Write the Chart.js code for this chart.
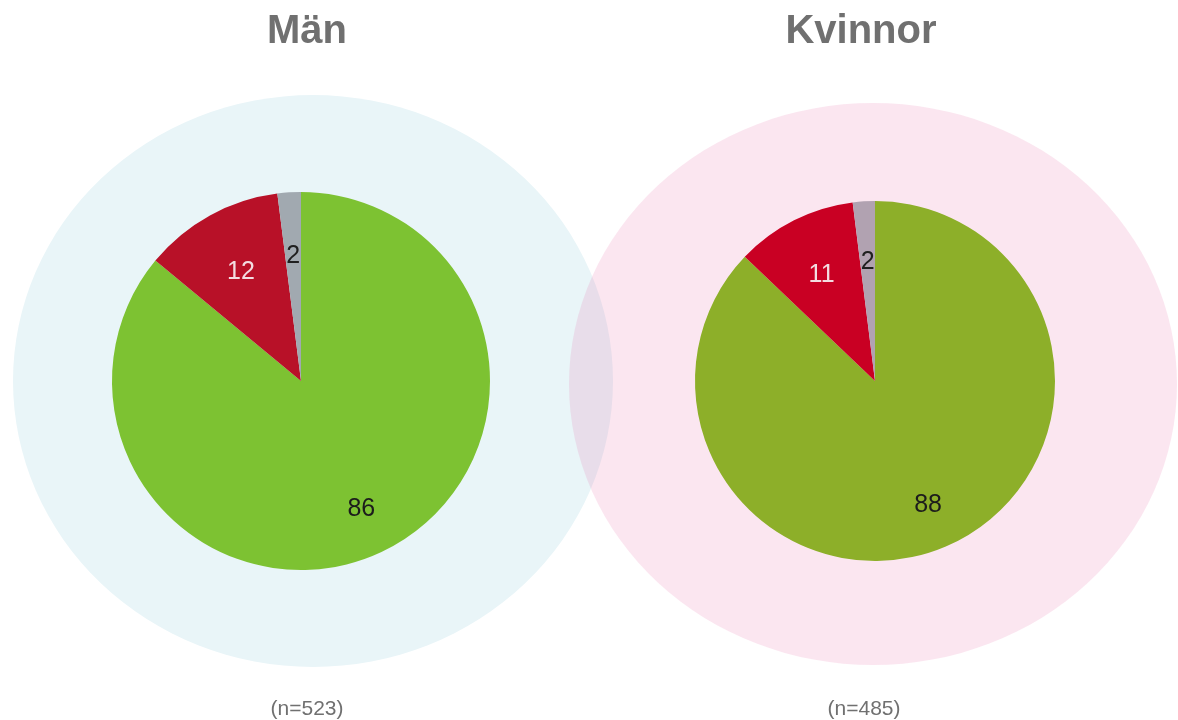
<!DOCTYPE html>
<html>
<head>
<meta charset="utf-8">
<script src="https://cdn.jsdelivr.net/npm/chart.js@4.4.1/dist/chart.umd.min.js"></script>
<style>
  body { margin:0; background:#fff; font-family:"Liberation Sans", Arial, sans-serif; }
  #wrap { position:relative; width:1178px; height:720px; overflow:hidden; }
  canvas { position:absolute; left:0; top:0; }
  .title { position:absolute; top:7px; width:300px; text-align:center; font-weight:bold;
           font-size:40px; line-height:44px; color:#707070; }
  .nlab { position:absolute; top:696px; width:200px; text-align:center; font-size:21px;
          line-height:24px; color:#707070; }
</style>
</head>
<body>
<div id="wrap">
  <canvas id="chartMen" width="1178" height="720"></canvas>
  <canvas id="chartWomen" width="1178" height="720"></canvas>
  <div class="title" style="left:157px">Män</div>
  <div class="title" style="left:711px">Kvinnor</div>
  <div class="nlab" style="left:207px">(n=523)</div>
  <div class="nlab" style="left:764px">(n=485)</div>
</div>
<script>
// data
var categories = ['Ja', 'Nej', 'Vet ej'];
var menValues = [86, 12, 2];
var womenValues = [88, 11, 2];

var menColors = ['#7dc232', '#b81128', '#a1a9b0'];
var womenColors = ['#8daf29', '#c90023', '#b1a2b1'];
var labelColors = ['#1c1c1c', '#f3dde1', '#202020'];

// background ellipse behind each pie
var ellipsePlugin = {
  id: 'bgEllipse',
  beforeDraw: function(chart, args, opts) {
    var ctx = chart.ctx;
    ctx.save();
    ctx.fillStyle = opts.color;
    ctx.beginPath();
    ctx.ellipse(opts.cx, opts.cy, opts.rx, opts.ry, 0, 0, Math.PI * 2);
    ctx.fill();
    ctx.restore();
  }
};

// value labels inside slices
var sliceLabels = {
  id: 'sliceLabels',
  afterDatasetsDraw: function(chart) {
    var ctx = chart.ctx;
    var ds = chart.data.datasets[0];
    var meta = chart.getDatasetMeta(0);
    var total = ds.data.reduce(function(a, b) { return a + b; }, 0);
    ctx.save();
    ctx.font = '25px "Liberation Sans", Arial, sans-serif';
    ctx.textAlign = 'center';
    ctx.textBaseline = 'middle';
    meta.data.forEach(function(arc, i) {
      var p = arc.getProps(['x', 'y', 'startAngle', 'endAngle', 'outerRadius'], true);
      var mid = (p.startAngle + p.endAngle) / 2;
      var f = ds.data[i] / total > 0.5 ? 0.75 : 0.66;
      ctx.fillStyle = labelColors[i];
      ctx.fillText(String(ds.data[i]), p.x + Math.cos(mid) * p.outerRadius * f,
                   p.y + Math.sin(mid) * p.outerRadius * f);
    });
    ctx.restore();
  }
};

function makePie(id, values, colors, pad, ell) {
  return new Chart(document.getElementById(id), {
    type: 'pie',
    data: {
      labels: categories,
      datasets: [{
        data: values,
        backgroundColor: colors,
        borderWidth: 0,
        hoverOffset: 0,
        offset: 0
      }]
    },
    options: {
      responsive: false,
      animation: false,
      layout: { padding: pad },
      plugins: {
        legend: { display: false },
        tooltip: { enabled: false },
        bgEllipse: ell
      }
    },
    plugins: [ellipsePlugin, sliceLabels]
  });
}

makePie('chartMen', menValues, menColors,
  { left: 112, top: 192, right: 688, bottom: 150 },
  { cx: 313, cy: 381, rx: 300, ry: 286, color: '#e9f5f8' });

makePie('chartWomen', womenValues, womenColors,
  { left: 695, top: 201, right: 123, bottom: 159 },
  { cx: 873, cy: 384, rx: 304, ry: 281, color: 'rgba(232,108,167,0.17)' });
</script>
</body>
</html>
